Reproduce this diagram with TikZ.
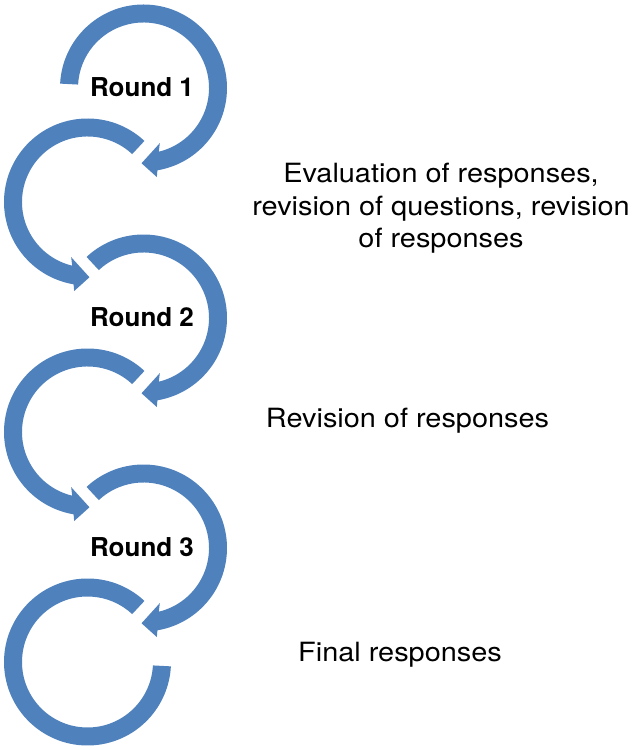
\documentclass[tikz,border=0pt]{standalone}
\usepackage{fontspec}
\setmainfont{TeX Gyre Heros}
\newfontfamily\widefont[FakeStretch=1.09]{TeX Gyre Heros}
\definecolor{loopblue}{RGB}{79,129,189}
\newcommand{\cwloop}[3]{% center x, center y, start angle
  \begin{scope}[shift={(#1,#2)}]
    \fill[loopfill] (#3:83.5pt) arc[start angle=#3, end angle=-80.4, radius=83.5pt]
      -- (-81.5:90pt) -- (-91.5:75.3pt) -- (-73.5:57.5pt) -- (-76.5:65.5pt)
      arc[start angle=-76.5, end angle=#3, radius=65.5pt] -- cycle;
  \end{scope}}
\newcommand{\ccwloop}[3]{%
  \begin{scope}[shift={(#1,#2)}]
    \fill[loopfill] (#3:83.5pt) arc[start angle=#3, end angle=260.4, radius=83.5pt]
      -- (261.5:90pt) -- (271.5:75.3pt) -- (253.5:57.5pt) -- (256.5:65.5pt)
      arc[start angle=256.5, end angle=#3, radius=65.5pt] -- cycle;
  \end{scope}}
\begin{document}
\begin{tikzpicture}[x=1pt,y=1pt,
  loopfill/.style={fill=loopblue},
  roundlabel/.style={anchor=base, inner sep=0pt, font=\fontsize{26}{30}\selectfont\bfseries},
  sidetext/.style={anchor=base, inner sep=0pt, align=center, font=\widefont\fontsize{26.5}{32.5}\selectfont}]
\useasboundingbox (0,0) rectangle (635,750);
% loops
\cwloop{143.5}{662}{177}
\ccwloop{87.5}{548}{47}
\cwloop{143.5}{432}{133}
\ccwloop{87.5}{318}{47}
\cwloop{143.5}{202}{133}
\begin{scope}[shift={(87.5,88)}]
  \fill[loopfill] (47:83.5pt) arc[start angle=47, end angle=357, radius=83.5pt]
    -- (357:65.5pt) arc[start angle=357, end angle=47, radius=65.5pt] -- cycle;
\end{scope}
% labels
\node[roundlabel] (r1) at (142,653.3) {Round 1};
\node[roundlabel] (r2) at (142,423.3) {Round 2};
\node[roundlabel] (r3) at (142,193.3) {Round 3};
\node[sidetext] (t1) at (441,502) {Evaluation of responses,\\ revision of questions, revision\\ of responses};
\node[sidetext] (t2) at (407.5,322) {Revision of responses};
\node[sidetext] (t3) at (400,88.3) {Final responses};
\end{tikzpicture}
\end{document}
